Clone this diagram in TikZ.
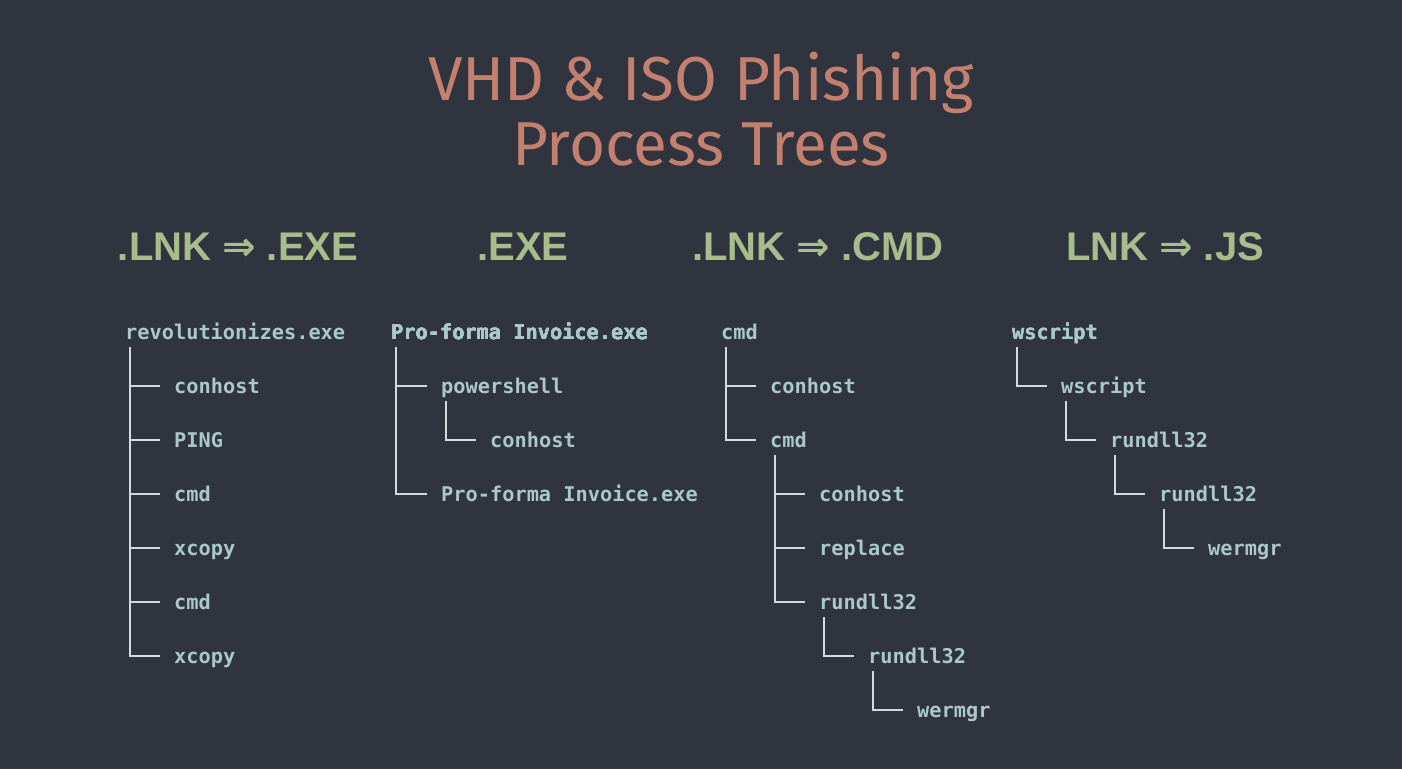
\documentclass[tikz,border=0pt]{standalone}
\usepackage{fontspec}
\setmonofont{DejaVu Sans Mono}
\newfontfamily\titlefont{Fira Sans}
\newfontfamily\headfont{Liberation Sans}
\newfontfamily\arrowfont{DejaVu Sans}
\usetikzlibrary{positioning, calc}
\definecolor{cBack}{HTML}{30343F}
\definecolor{cTitle}{HTML}{C4806F}
\definecolor{cHead}{HTML}{A8BD8B}
\definecolor{cProc}{HTML}{A9C8C6}
\definecolor{cLine}{HTML}{D5D9DE}
\tikzset{
	title/.style ={anchor=base, inner sep=0pt, text=cTitle, font=\titlefont\fontsize{62}{74}\selectfont},
	head/.style  ={anchor=base, inner sep=0pt, text=cHead, font=\headfont\bfseries\fontsize{40}{48}\selectfont},
	proc/.style  ={anchor=west, inner sep=0pt, text=cProc, text height=16pt, text depth=2pt,
		font=\ttfamily\bfseries\fontsize{20.3}{24}\selectfont},
	branch/.style={draw=cLine, line width=2pt},
}
\newcommand{\ptr}{{\arrowfont ⇒}}
% parent -> child elbow
\newcommand{\tie}[2]{\draw[branch] ([xshift=5pt,yshift=-6pt]#1.south west) |- ([xshift=-14pt]#2.west);}

\begin{document}
\begin{tikzpicture}[x=1pt, y=-1pt]
	\fill[cBack] (0,0) rectangle (1402,769);
	\node[title] (t1) at (701,100) {VHD \& ISO Phishing};
	\node[title] (t2) at (701,165) {Process Trees};
	% column headers
	\node[head] (h1) at (238,260) {.LNK \ptr{} .EXE};
	\node[head] (h2) at (523,260) {.EXE};
	\node[head] (h3) at (818,260) {.LNK \ptr{} .CMD};
	\node[head] (h4) at (1165,260) {LNK \ptr{} .JS};
	% .LNK -> .EXE
	\node[proc] (rev)     at (125,332) {revolutionizes.exe};
	\node[proc] (revCon)  at (174,386) {conhost};
	\node[proc] (revPing) at (174,440) {PING};
	\node[proc] (revCmdA) at (174,494) {cmd};
	\node[proc] (revXcA)  at (174,548) {xcopy};
	\node[proc] (revCmdB) at (174,602) {cmd};
	\node[proc] (revXcB)  at (174,656) {xcopy};
	\foreach \c in {revCon,revPing,revCmdA,revXcA,revCmdB,revXcB}
		\tie{rev}{\c}
	% .EXE
	\node[proc] (inv)    at (391,332) {Pro-forma Invoice.exe};
	\node[proc] (invPs)  at (441,386) {powershell};
	\node[proc] (invCon) at (490,440) {conhost};
	\node[proc] (invExe) at (441,494) {Pro-forma Invoice.exe};
	\tie{inv}{invPs}
	\tie{inv}{invExe}
	\tie{invPs}{invCon}
	% .LNK -> .CMD
	\node[proc] (cmd)     at (721,332) {cmd};
	\node[proc] (cmdCon)  at (770,386) {conhost};
	\node[proc] (cmdCmd)  at (770,440) {cmd};
	\node[proc] (cmdConB) at (819,494) {conhost};
	\node[proc] (cmdRep)  at (819,548) {replace};
	\node[proc] (cmdRunA) at (819,602) {rundll32};
	\node[proc] (cmdRunB) at (868,656) {rundll32};
	\node[proc] (cmdWer)  at (917,710) {wermgr};
	\tie{cmd}{cmdCon}
	\tie{cmd}{cmdCmd}
	\foreach \c in {cmdConB,cmdRep,cmdRunA}
		\tie{cmdCmd}{\c}
	\tie{cmdRunA}{cmdRunB}
	\tie{cmdRunB}{cmdWer}
	% LNK -> .JS
	\node[proc] (ws)     at (1012,332) {wscript};
	\node[proc] (wsB)    at (1061,386) {wscript};
	\node[proc] (wsRunA) at (1110,440) {rundll32};
	\node[proc] (wsRunB) at (1159,494) {rundll32};
	\node[proc] (wsWer)  at (1208,548) {wermgr};
	\tie{ws}{wsB}
	\tie{wsB}{wsRunA}
	\tie{wsRunA}{wsRunB}
	\tie{wsRunB}{wsWer}
\end{tikzpicture}
\end{document}
